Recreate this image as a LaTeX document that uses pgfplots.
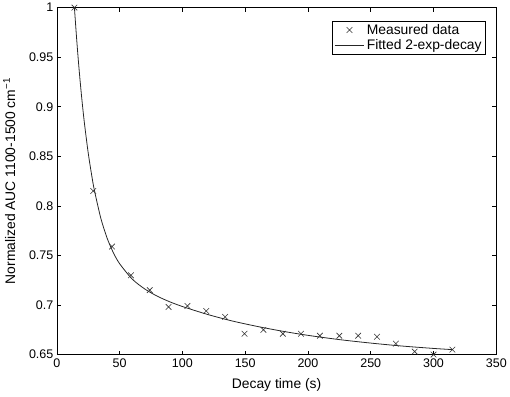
\documentclass[border=0pt]{standalone}
\usepackage{fontspec}
\setmainfont{Liberation Sans}
\usepackage{pgfplots}
\pgfplotsset{compat=1.18}
\pgfplotsset{
  linelegend/.style={legend image code/.code={\draw[##1] (0bp,0bp) -- (30bp,0bp);}},
  marklegend/.style={legend image code/.code={\draw[##1] plot coordinates {(15bp,0bp)};}},
}
\begin{document}
\begin{tikzpicture}
\begin{axis}[
  name=ax,
  scale only axis,
  width=442bp, height=349bp,
  xmin=0, xmax=350, ymin=0.65, ymax=1,
  xtick={0,50,...,350},
  ytick={0.65,0.7,0.75,0.8,0.85,0.9,0.95,1},
  yticklabel style={/pgf/number format/.cd, fixed, precision=2},
  /pgf/number format/assume math mode=true,
  tick align=inside,
  major tick length=4bp,
  tick style={black, line width=0.5pt},
  axis line style={black, line width=0.6pt},
  xlabel={Decay time (s)},
  ylabel={Normalized AUC 1100-1500 cm\textsuperscript{−1}},
  xlabel style={yshift=-4bp},
  ylabel style={yshift=7bp},
  xticklabel style={yshift=-1bp},
  ticklabel style={font=\fontsize{12.6}{15}\selectfont},
  label style={font=\fontsize{14}{16}\selectfont},
  legend style={at={(1,1)}, anchor=north east, xshift=-11bp, yshift=-13bp,
    draw=black, line width=0.5pt, font=\fontsize{14}{16}\selectfont,
    inner xsep=1.5pt, inner ysep=1.5pt, row sep=0pt},
  legend cell align=left,
]
\addplot[only marks, mark=x, mark size=4bp, black!80, line width=0.6pt, marklegend] coordinates {
(14,1.000) (29,0.815) (44,0.759) (59,0.730) (74,0.715) (89,0.698) (104,0.699)
(119,0.694) (134,0.688) (149.5,0.671) (164.5,0.675) (180,0.671) (194.5,0.671)
(209.5,0.669) (225,0.669) (240,0.669) (255,0.668) (270,0.661) (285,0.653)
(300,0.650) (315,0.655)
};
\addlegendentry{Measured data}
\addplot[black!85, line width=0.8pt, smooth, linelegend] coordinates {
(14,1.000) (16,0.9646) (18,0.9336) (20,0.9066) (22,0.8831) (25,0.8533)
(28,0.8290) (30,0.8152) (35,0.7877) (40,0.7676) (45,0.7528) (50,0.7417)
(60,0.7262) (70,0.7162) (80,0.7089) (90,0.7032) (100,0.6985) (120,0.6905)
(140,0.6838) (160,0.6783) (180,0.6735) (200,0.6694) (225,0.6651)
(250,0.6616) (275,0.6586) (300,0.6562) (315,0.6550)
};
\addlegendentry{Fitted 2-exp-decay}
\end{axis}
\path[use as bounding box] ([xshift=-55.7bp,yshift=-42bp]ax.south west) rectangle ([xshift=12bp,yshift=5bp]ax.north east);
\end{tikzpicture}
\end{document}
